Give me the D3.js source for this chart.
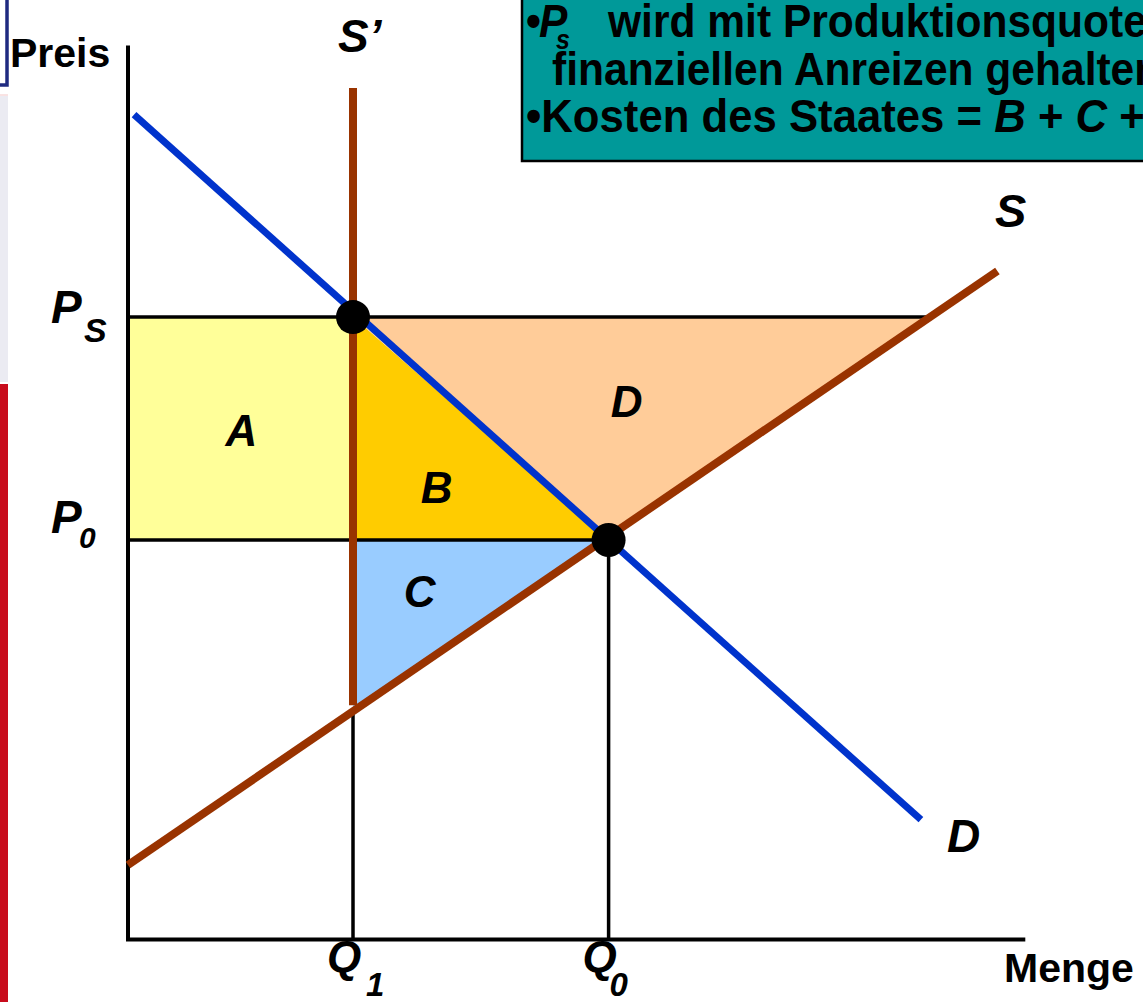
<!DOCTYPE html>
<html>
<head>
<meta charset="utf-8">
<script src="https://cdn.jsdelivr.net/npm/d3@7"></script>
<style>
  html, body { margin: 0; padding: 0; background: #fff; overflow: hidden; }
  svg { display: block; font-family: "Liberation Sans", Arial, sans-serif; }
</style>
</head>
<body>
<div id="chart"></div>
<script>
// key quantities and prices (model units)
const quantities = { Q1: 25, Q0: 53.4 };
const prices = { Ps: 70.1, P0: 45 };
// curve endpoints [menge, preis]
const supplyPts = [[0, 8.4], [96.6, 75.3]];
const demandPts = [[0.67, 92.9], [88.1, 13.5]];
const quotaPts = [[25, 95.9], [25, 26.4]];
const areaLabels = ["A", "B", "C", "D"];
const boxLines = ["wird mit Produktionsquoten und", "finanziellen Anreizen gehalten", "\u2022Kosten des Staates = "];

const width = 1143, height = 1002;

const svg = d3.select("#chart")
    .append("svg")
    .attr("width", width)
    .attr("height", height);

let x = d3.scaleLinear().domain([0, 100]).range([128, 1028]);
let y = d3.scaleLinear().domain([0, 100]).range([939.6, 51.6]);

// supply line value at given quantity
const sAt = q => supplyPts[0][1] + (supplyPts[1][1] - supplyPts[0][1]) * (q - supplyPts[0][0]) / (supplyPts[1][0] - supplyPts[0][0]);
const sInv = p => supplyPts[0][0] + (p - supplyPts[0][1]) * (supplyPts[1][0] - supplyPts[0][0]) / (supplyPts[1][1] - supplyPts[0][1]);

// left slide decoration
svg.append("rect").attr("x", -4).attr("y", -4).attr("width", 11).attr("height", 89)
    .attr("fill", "#fff").attr("stroke", "#1f2a80").attr("stroke-width", 3.5);
svg.append("rect").attr("x", 0).attr("y", 96).attr("width", 8).attr("height", 286).attr("fill", "#ebebf2");
svg.append("line").attr("x1", 0).attr("x2", 8).attr("y1", 95).attr("y2", 95).attr("stroke", "#f3c6c6");
svg.append("rect").attr("x", 0).attr("y", 384).attr("width", 8).attr("height", 618).attr("fill", "#c80c1c");

const line = d3.line().x(d => x(d[0])).y(d => y(d[1]));
const poly = pts => line(pts) + "Z";

const Q1 = quantities.Q1, Q0 = quantities.Q0, Ps = prices.Ps, P0 = prices.P0;

// shaded areas
const areas = [
    { pts: [[0, P0], [Q1, P0], [Q1, Ps], [0, Ps]], fill: "#ffff99" },
    { pts: [[Q1, Ps], [Q0, P0], [Q1, P0]], fill: "#ffcc00" },
    { pts: [[Q1, P0], [Q0, P0], [Q1, sAt(Q1)]], fill: "#99ccff" },
    { pts: [[Q1, Ps], [sInv(Ps), Ps], [Q0, P0]], fill: "#ffcc99" }
];
svg.append("g").selectAll("path")
    .data(areas)
    .enter()
    .append("path")
    .attr("d", d => poly(d.pts))
    .attr("fill", d => d.fill);

// guide lines
const guides = [
    [[0, Ps], [sInv(Ps), Ps]],
    [[0, P0], [Q0, P0]],
    [[Q1, sAt(Q1)], [Q1, 0]],
    [[Q0, P0], [Q0, 0]]
];
svg.append("g").selectAll("path")
    .data(guides)
    .enter()
    .append("path")
    .attr("d", d => line(d))
    .attr("stroke", "#000")
    .attr("stroke-width", 3.5)
    .attr("fill", "none");

// axes
svg.append("path")
    .attr("d", line([[0, 100.7], [0, 0], [99.7, 0]]))
    .attr("stroke", "#000")
    .attr("stroke-width", 4)
    .attr("fill", "none");

// curves
const curves = [
    { pts: quotaPts, color: "#993300", w: 8 },
    { pts: supplyPts, color: "#993300", w: 8 },
    { pts: demandPts, color: "#0033cc", w: 7 }
];
svg.append("g").selectAll("path")
    .data(curves)
    .enter()
    .append("path")
    .attr("d", d => line(d.pts))
    .attr("stroke", d => d.color)
    .attr("stroke-width", d => d.w)
    .attr("fill", "none");

// equilibrium dots
svg.append("g").selectAll("circle")
    .data([[Q1, Ps], [Q0, P0]])
    .enter()
    .append("circle")
    .attr("cx", d => x(d[0]))
    .attr("cy", d => y(d[1]))
    .attr("r", 17)
    .attr("fill", "#000");

// labels
const lab = (px, py, size, italic) => svg.append("text")
    .attr("x", px).attr("y", py)
    .attr("font-size", size)
    .attr("font-weight", "bold")
    .attr("font-style", italic ? "italic" : "normal")
    .attr("fill", "#000");

lab(10, 67, 41, false).text("Preis");
lab(1004, 982, 41, false).text("Menge");

function sub(px, py, main, size, sx, sy, s, ssize) {
    lab(px, py, size, true).text(main);
    lab(sx, sy, ssize, true).text(s);
}
sub(51, y(Ps) + 6, "P", 46, 84, y(Ps) + 25, "S", 34);
sub(51, y(P0) - 7, "P", 46, 79, y(P0) + 8, "0", 30);
sub(x(Q1) - 26, 972, "Q", 44, x(Q1) + 13, 996, "1", 33);
sub(x(Q0) - 26, 972, "Q", 44, x(Q0) + 1, 996, "0", 33);

lab(338, 52, 46, true).text("S\u2019");
lab(995, 227, 47, true).text("S");
lab(947, 852, 46, true).text("D");

const areaPos = [[12.6, 55.6], [34.3, 49.2], [32.4, 37.5], [55.4, 58.9]];
svg.append("g").selectAll("text")
    .data(areaLabels)
    .enter()
    .append("text")
    .attr("x", (d, i) => x(areaPos[i][0]))
    .attr("y", (d, i) => y(areaPos[i][1]))
    .attr("text-anchor", "middle")
    .attr("font-size", 44)
    .attr("font-weight", "bold")
    .attr("font-style", "italic")
    .text(d => d);

// info box
const box = svg.append("g");
box.append("rect").attr("x", 522).attr("y", -5).attr("width", 700).attr("height", 166)
    .attr("fill", "#009999").attr("stroke", "#000").attr("stroke-width", 2.5);
const bt = (px, py, size, sx) => box.append("text")
    .attr("transform", `translate(${px},${py}) scale(${sx || 0.925},1)`)
    .attr("font-size", size || 46).attr("font-weight", "bold").attr("fill", "#000");
bt(526, 37).text("\u2022");
bt(539, 37).attr("font-style", "italic").text("P");
bt(556, 49, 27).attr("font-style", "italic").text("s");
bt(608, 37).text(boxLines[0]);
bt(552, 85).text(boxLines[1]);
let t3 = bt(526, 132, 46, 0.95);
t3.append("tspan").text(boxLines[2]);
t3.append("tspan").attr("font-style", "italic").text("B");
t3.append("tspan").text(" + ");
t3.append("tspan").attr("font-style", "italic").text("C");
t3.append("tspan").text(" + ");
t3.append("tspan").attr("font-style", "italic").text("D");
</script>
</body>
</html>
